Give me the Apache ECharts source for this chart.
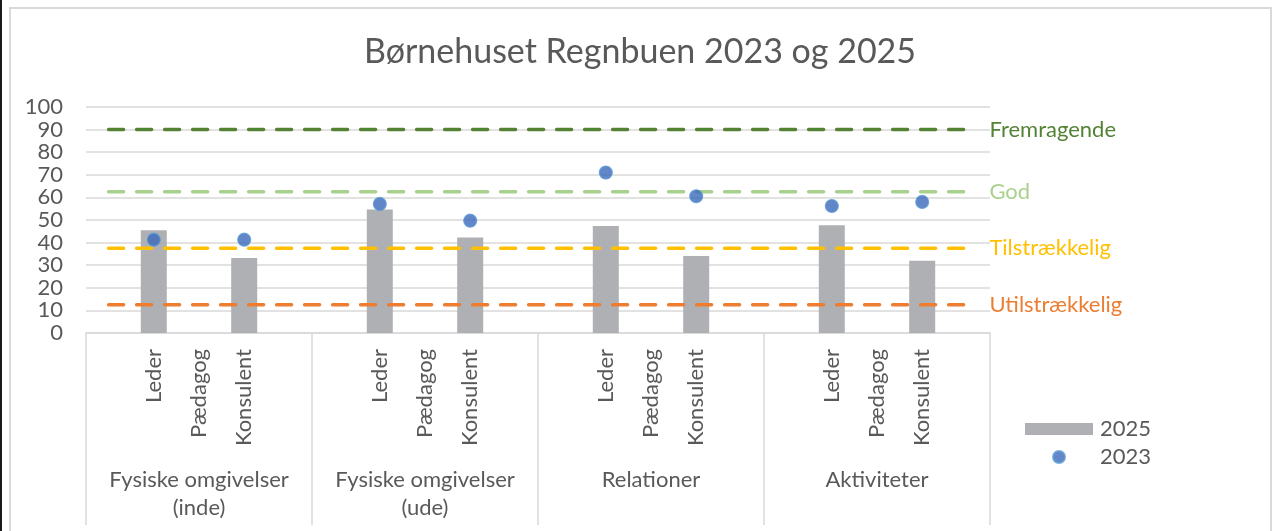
<!DOCTYPE html>
<html>
<head>
<meta charset="utf-8">
<script src="https://cdn.jsdelivr.net/npm/echarts@6/dist/echarts.min.js"></script>
<style>
html,body{margin:0;padding:0;background:#fff;}
#chart{width:1280px;height:531px;}
</style>
</head>
<body>
<div id="chart"></div>
<script>
// ---- data ----
const groups = ['Fysiske omgivelser\n(inde)', 'Fysiske omgivelser\n(ude)', 'Relationer', 'Aktiviteter'];
const roles = ['Leder', 'Pædagog', 'Konsulent'];
const leder2025 = [45.5, 54.7, 47.3, 47.7];
const paedagog2025 = [null, null, null, null];
const konsulent2025 = [33.2, 42.3, 34.1, 32.0];
const leder2023 = [41.3, 57.1, 71.0, 56.2];
const paedagog2023 = [null, null, null, null];
const konsulent2023 = [41.3, 49.7, 60.5, 58.0];
const levelNames = ['Fremragende', 'God', 'Tilstrækkelig', 'Utilstrækkelig'];
const levelValues = [90, 62.5, 37.5, 12.5];
const levelColors = ['#548235', '#a9d18e', '#ffc000', '#ed7d31'];

// ---- build category slots: blank, Leder, Pædagog, Konsulent, blank per group ----
const cats = [];
const bars = [];
const dots = [];
const byRole2025 = [leder2025, paedagog2025, konsulent2025];
const byRole2023 = [leder2023, paedagog2023, konsulent2023];
groups.forEach((g, gi) => {
  cats.push(''); bars.push(null); dots.push(null);
  roles.forEach((r, ri) => {
    cats.push(r);
    bars.push(byRole2025[ri][gi]);
    dots.push(byRole2023[ri][gi]);
  });
  cats.push(''); bars.push(null); dots.push(null);
});

const FONT = 'Lato';
const TXT = '#595959';
const GRIDC = '#d9d9d9';
const FS = 22;

const levelSeries = levelNames.map((n, i) => ({
  name: n,
  type: 'line',
  xAxisIndex: 0,
  data: [[0, levelValues[i]], [cats.length - 1, levelValues[i]]],
  symbol: 'none',
  silent: true,
  z: 3,
  lineStyle: { color: levelColors[i], width: 3.5, type: [15, 13], cap: 'round' },
  endLabel: {
    show: true, formatter: n, color: levelColors[i],
    fontFamily: FONT, fontSize: FS, distance: 22
  }
}));

const chart = echarts.init(document.getElementById('chart'));
chart.setOption({
  animation: false,
  backgroundColor: '#fff',
  textStyle: { fontFamily: FONT },
  title: {
    text: 'Børnehuset Regnbuen 2023 og 2025',
    left: 'center', top: 30,
    textStyle: { fontFamily: FONT, fontSize: 34, fontWeight: 'normal', color: TXT }
  },
  grid: { left: 86, right: 290, top: 107, bottom: 198 },
  legend: {
    orient: 'vertical', left: 1025, top: 418, padding: 0,
    itemWidth: 68, itemHeight: 12, itemGap: 6,
    data: [
      { name: '2025', icon: 'rect' },
      { name: '2023', icon: 'circle' }
    ],
    textStyle: { fontFamily: FONT, fontSize: FS, color: TXT, padding: [0, 0, 0, 2] }
  },
  xAxis: [
    {
      type: 'category', data: cats, boundaryGap: true,
      axisLine: { show: true, lineStyle: { color: GRIDC, width: 1.5 } },
      axisTick: { show: false },
      axisLabel: { interval: 0, rotate: 90, margin: 16, fontFamily: FONT, fontSize: FS, color: TXT }
    },
    {
      type: 'category', data: groups, position: 'bottom', boundaryGap: true,
      axisLine: { show: false },
      axisTick: { show: true, length: 192, interval: 0, lineStyle: { color: GRIDC, width: 1.5 } },
      axisLabel: { interval: 0, margin: 133, fontFamily: FONT, fontSize: FS, color: TXT, lineHeight: 28, verticalAlign: 'top' }
    }
  ],
  yAxis: {
    type: 'value', min: 0, max: 100, interval: 10,
    axisLine: { show: false }, axisTick: { show: false },
    splitLine: { lineStyle: { color: GRIDC, width: 1.5 } },
    axisLabel: { fontFamily: FONT, fontSize: FS, color: TXT, margin: 23 }
  },
  graphic: [
    { type: 'rect', shape: { x: 10, y: 8, width: 1261, height: 560 }, style: { fill: null, stroke: GRIDC, lineWidth: 2 }, silent: true },
    { type: 'rect', shape: { x: 0, y: 0, width: 2, height: 531 }, style: { fill: '#1a1a1a' }, silent: true }
  ],
  series: [
    {
      name: '2025', type: 'bar', xAxisIndex: 0, data: bars,
      barWidth: 26, z: 2,
      itemStyle: { color: '#afb0b4' }
    },
    {
      name: '2023', type: 'scatter', xAxisIndex: 0, data: dots,
      symbolSize: 13, z: 5,
      itemStyle: { color: '#3a69bb', borderColor: '#5b9bd5', borderWidth: 1.2 }
    }
  ].concat(levelSeries)
});
</script>
</body>
</html>
